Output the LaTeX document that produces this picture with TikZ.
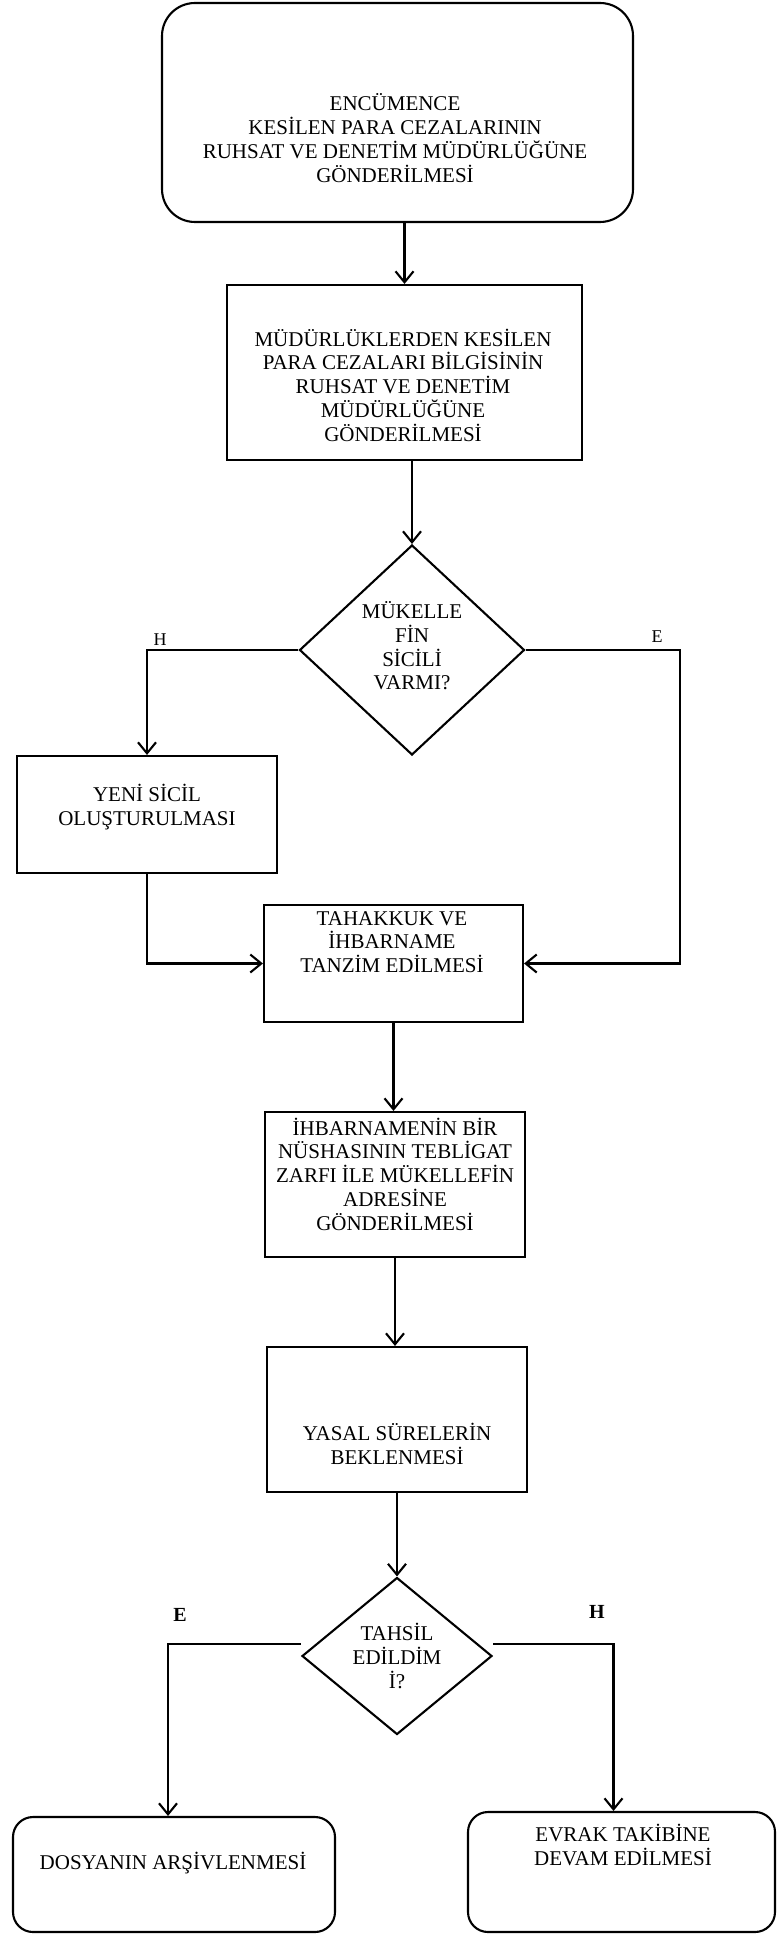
\documentclass[tikz,border=0pt]{standalone}
\usepackage{fontspec}
\setmainfont{Liberation Serif}
\usetikzlibrary{shapes.geometric,arrows.meta}

\begin{document}
\begin{tikzpicture}[x=1pt,y=-1pt,line width=2.1pt,
  every node/.style={font=\fontsize{21pt}{23.75pt}\selectfont, align=center, inner sep=0pt},
  proc/.style={draw, rectangle},
  endbox/.style={draw, rectangle, rounded corners=20pt},
  decision/.style={draw, diamond, aspect=1.1},
  flow/.style={-{Straight Barb[length=11pt,width=18pt]}},
  yn/.style={font=\fontsize{18pt}{20pt}\selectfont},
  ynb/.style={font=\fontsize{20pt}{22pt}\selectfont\bfseries}]
  \useasboundingbox (0,0) rectangle (777,1934);
  % Start box
  \node[endbox, rounded corners=33pt, minimum width=471pt, minimum height=219pt] (encumen) at (397.5,112.5) {};
  \node (encumen-t) at (395,138) {ENCÜMENCE\\KESİLEN PARA CEZALARININ\\RUHSAT VE DENETİM MÜDÜRLÜĞÜNE\\GÖNDERİLMESİ};
  % Process boxes
  \node[proc, minimum width=355pt, minimum height=175pt] (mudur) at (404.5,372.5) {};
  \node (mudur-t) at (403,385) {MÜDÜRLÜKLERDEN KESİLEN\\PARA CEZALARI BİLGİSİNİN\\RUHSAT VE DENETİM\\MÜDÜRLÜĞÜNE\\GÖNDERİLMESİ};
  \node[decision, minimum width=225pt, minimum height=210pt] (karar1) at (412,650) {};
  \node (karar1-t) at (412,646) {MÜKELLE\\FİN\\SİCİLİ\\VARMI?};
  \node[proc, minimum width=260pt, minimum height=117pt] (yeni) at (147,814.5) {};
  \node (yeni-t) at (147,807) {YENİ SİCİL\\OLUŞTURULMASI};
  \node[proc, minimum width=259pt, minimum height=117pt] (tahakkuk) at (393.5,963.5) {};
  \node (tahakkuk-t) at (392,942) {TAHAKKUK VE\\İHBARNAME\\TANZİM EDİLMESİ};
  \node[proc, minimum width=260pt, minimum height=145pt] (ihbar) at (395,1184.5) {};
  \node (ihbar-t) at (395,1174) {İHBARNAMENİN BİR\\NÜSHASININ TEBLİGAT\\ZARFI İLE MÜKELLEFİN\\ADRESİNE\\GÖNDERİLMESİ};
  \node[proc, minimum width=260pt, minimum height=145pt] (yasal) at (397,1419.5) {};
  \node (yasal-t) at (397,1444) {YASAL SÜRELERİN\\BEKLENMESİ};
  \node[decision, minimum width=190pt, minimum height=157pt] (karar2) at (397,1656) {TAHSİL\\EDİLDİM\\İ?};
  % End boxes
  \node[endbox, minimum width=322pt, minimum height=115pt] (arsiv) at (174,1874.5) {};
  \node (arsiv-t) at (173,1863) {DOSYANIN ARŞİVLENMESİ};
  \node[endbox, minimum width=307pt, minimum height=120pt] (devam) at (621.5,1872) {};
  \node (devam-t) at (623,1845) {EVRAK TAKİBİNE\\DEVAM EDİLMESİ};
  % Branch labels
  \node[yn] (h1) at (160,640) {H};
  \node[yn] (e1) at (657,637) {E};
  \node[ynb] (e2) at (180,1615) {E};
  \node[ynb] (h2) at (597,1612) {H};
  % Arrows
  \coordinate (eturn) at (680,650);
  \draw[flow] (mudur.north |- encumen.south) -- (mudur.north);
  \draw[flow] (karar1.north |- mudur.south) -- (karar1.north);
  \draw[flow] (karar1.west) -| (yeni.north);
  \draw[flow] (karar1.east) -- (eturn) |- (tahakkuk.east);
  \draw[flow] (yeni.south) |- (tahakkuk.west);
  \foreach \a/\b in {tahakkuk/ihbar, ihbar/yasal, yasal/karar2}
    \draw[flow] (\a.south) -- (\a.south |- \b.north);
  \draw[flow] ([yshift=12pt]karar2.west) -| ([xshift=-6pt]arsiv.north);
  \draw[flow] ([yshift=12pt]karar2.east) -| ([xshift=-8pt]devam.north);
\end{tikzpicture}
\end{document}
